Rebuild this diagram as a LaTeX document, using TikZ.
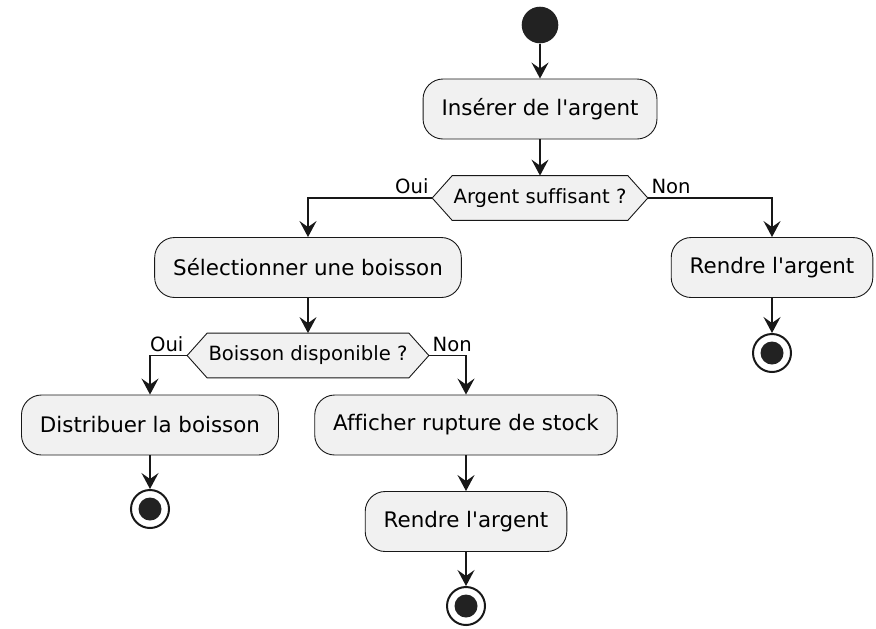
\documentclass[tikz,border=0pt]{standalone}
\usepackage{fontspec}
\setmainfont{DejaVu Sans}[Ligatures={TeXOff,CommonOff}]
\usetikzlibrary{arrows.meta,backgrounds}

\definecolor{boxfill}{HTML}{F1F1F1}
\definecolor{ink}{HTML}{181818}
\definecolor{dot}{HTML}{222222}

\begin{document}
\begin{tikzpicture}[x=0.5pt,y=-0.5pt,
    action/.style={draw=ink, line width=0.45pt, fill=boxfill, rounded corners=10pt,
      minimum height=30pt, inner xsep=9.25pt, font=\fontsize{10.7}{13}\selectfont},
    decision/.style={minimum height=22pt, inner xsep=10.5pt, inner ysep=0pt,
      font=\fontsize{9.8}{12}\selectfont},
    hexbox/.style={draw=ink, line width=0.45pt, fill=boxfill},
    startdot/.style={circle, fill=dot, minimum size=18.3pt, inner sep=0pt},
    stopdot/.style={circle, draw=ink, line width=1pt, fill=white, minimum size=19pt, inner sep=0pt,
      path picture={\fill[dot] (path picture bounding box.center) circle (5.75pt);}},
    flow/.style={draw=ink, line width=0.75pt, -{Stealth[length=8pt, width=8.5pt, inset=3pt]}},
    lbl/.style={inner sep=1.5pt, font=\fontsize{9.8}{12}\selectfont}]

  \useasboundingbox (0,0) rectangle (876,628);

  % start and first action
  \node[startdot] (start) at (540,25) {};
  \node[action] (insert) at (540,109) {Insérer de l'argent};
  \node[decision] (money) at (540,198) {Argent suffisant ?};

  % branch Oui / Non
  \node[action] (choose) at (308,267.5) {Sélectionner une boisson};
  \node[action] (refund1) at (772,267.5) {Rendre l'argent};
  \node[stopdot] (end1) at (772,353) {};

  % second test
  \node[decision] (stock) at (308,355.5) {Boisson disponible ?};
  \node[action] (serve) at (150,425) {Distribuer la boisson};
  \node[action] (empty) at (466,425) {Afficher rupture de stock};
  \node[stopdot] (end2) at (150,509) {};
  \node[action] (refund2) at (466,521.5) {Rendre l'argent};
  \node[stopdot] (end3) at (466,606) {};

  % hexagons behind the tests
  \begin{scope}[on background layer]
    \foreach \d in {money,stock} {
      \draw[hexbox] (\d.west) -- ([xshift=10pt]\d.north west) -- ([xshift=-10pt]\d.north east)
        -- (\d.east) -- ([xshift=-10pt]\d.south east) -- ([xshift=10pt]\d.south west) -- cycle;
    }
  \end{scope}

  % flows
  \draw[flow] (start) -- (insert);
  \draw[flow] (insert) -- (money);
  \draw[flow] (money.west) node[lbl, anchor=south east] {Oui} -| (choose);
  \draw[flow] (money.east) node[lbl, anchor=south west] {Non} -| (refund1);
  \draw[flow] (refund1) -- (end1);
  \draw[flow] (choose) -- (stock);
  \draw[flow] (stock.west) node[lbl, anchor=south east] {Oui} -| (serve);
  \draw[flow] (stock.east) node[lbl, anchor=south west] {Non} -| (empty);
  \draw[flow] (serve) -- (end2);
  \draw[flow] (empty) -- (refund2);
  \draw[flow] (refund2) -- (end3);

\end{tikzpicture}
\end{document}
